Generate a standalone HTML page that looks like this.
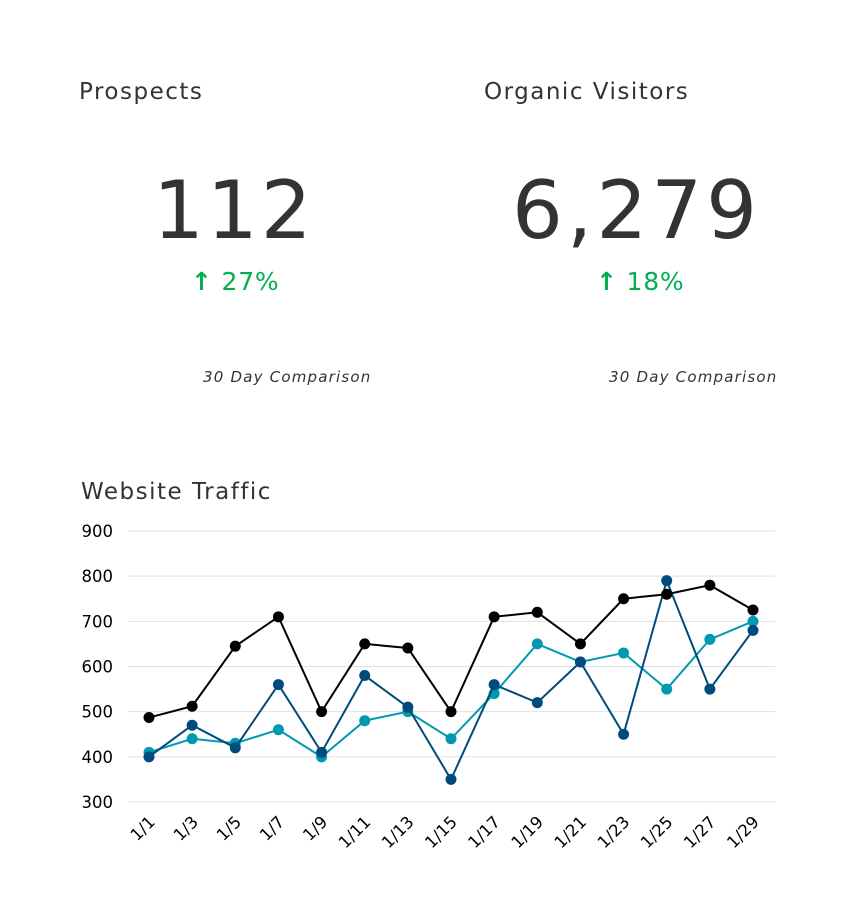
<!DOCTYPE html>
<html><head><meta charset="utf-8"><style>
body{margin:0;width:866px;height:911px;background:#fff;font-family:"DejaVu Sans","Liberation Sans",sans-serif;color:#333;position:relative;overflow:hidden}
.a{position:absolute;white-space:nowrap}
</style></head><body>
<div class="a" style="left:79px;top:79px;font-size:23px;letter-spacing:1.5px">Prospects</div>
<div class="a" style="left:153px;top:164px;font-size:80px;letter-spacing:3px;color:#333">112</div>
<div class="a" style="left:191px;top:267px;font-size:25px;letter-spacing:0.8px;color:#00b050"><b>↑</b> 27%</div>
<div class="a" style="left:203px;top:368px;font-size:15px;font-style:italic;letter-spacing:1.2px">30 Day Comparison</div>
<div class="a" style="left:484px;top:79px;font-size:23px;letter-spacing:1.5px">Organic Visitors</div>
<div class="a" style="left:512px;top:164px;font-size:80px;letter-spacing:4px">6,279</div>
<div class="a" style="left:596px;top:267px;font-size:25px;letter-spacing:0.8px;color:#00b050"><b>↑</b> 18%</div>
<div class="a" style="left:609px;top:368px;font-size:15px;font-style:italic;letter-spacing:1.2px">30 Day Comparison</div>
<div class="a" style="left:81px;top:479px;font-size:23px;letter-spacing:1.5px">Website Traffic</div>
<svg id="chart" width="866" height="911" style="position:absolute;left:0;top:0"></svg>
<script>
const categories=["1/1","1/3","1/5","1/7","1/9","1/11","1/13","1/15","1/17","1/19","1/21","1/23","1/25","1/27","1/29"];
const yTicks=[300,400,500,600,700,800,900];
const seriesTeal=[410,440,430,460,400,480,500,440,540,650,610,630,550,660,700];
const seriesBlue=[400,470,420,560,410,580,510,350,560,520,610,450,790,550,680];
const seriesBlack=[487,512,645,710,500,650,641,500,710,720,650,750,760,780,725];
const NS="http://www.w3.org/2000/svg";
const svg=document.getElementById('chart');
const x=i=>149+i*(753-149)/(categories.length-1);
const y=v=>802-(v-300)*(802-531)/600;
function mk(t,a){const e=document.createElementNS(NS,t);for(const k in a)e.setAttribute(k,a[k]);svg.appendChild(e);return e;}
yTicks.forEach(v=>{
 const l=mk('line',{x1:128,x2:775,y1:y(v),y2:y(v),stroke:'#e0e0e0','stroke-width':1});
 
 
 const t=mk('text',{x:113,y:y(v)+6,'text-anchor':'end','font-size':16.5,fill:'#000'});
 t.textContent=v;
 
 
});
categories.forEach((c,i)=>{
 const t=mk('text',{x:x(i)+7,y:823,'text-anchor':'end','font-size':16.5,fill:'#000',transform:`rotate(-45 ${x(i)+7} 823)`});
 t.textContent=c;
 
 
});
[[seriesTeal,'#0099b0','teal'],[seriesBlue,'#004b7c','blue'],[seriesBlack,'#000','black']].forEach(([d,col,n])=>{
 const p=mk('polyline',{points:d.map((v,i)=>x(i)+','+y(v)).join(' '),fill:'none',stroke:col,'stroke-width':2});
 
 
 d.forEach((v,i)=>{
  const c=mk('circle',{cx:x(i),cy:y(v),r:5.5,fill:col});
  
  
 });
});
</script>
</body></html>
